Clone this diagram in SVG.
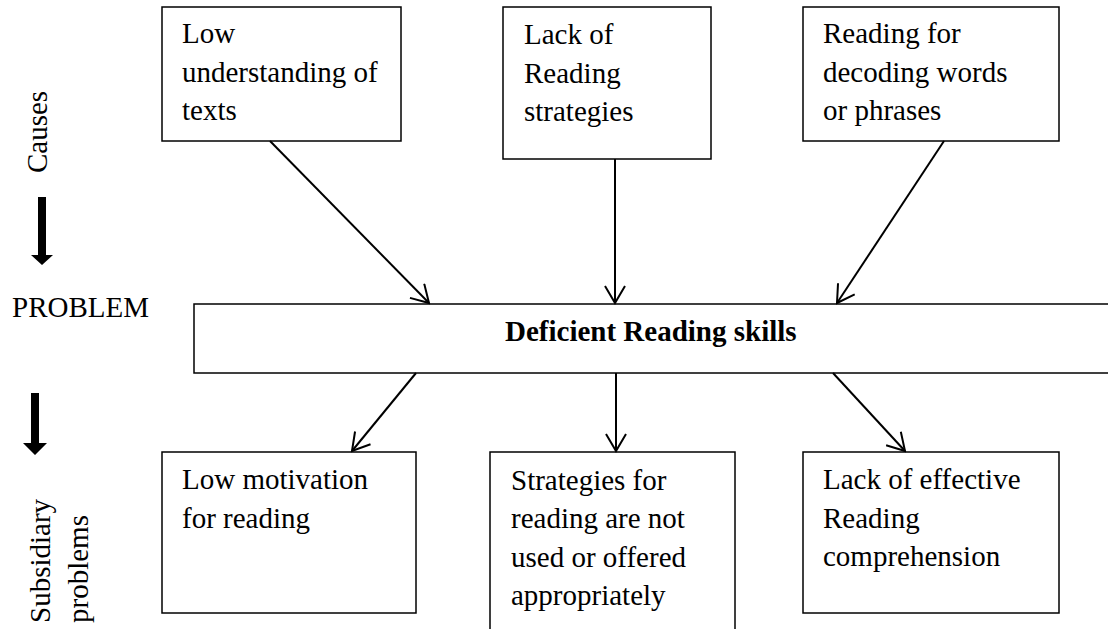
<svg xmlns="http://www.w3.org/2000/svg" width="1108" height="629" viewBox="0 0 1108 629">
<defs>
<style>
text{font-family:"Liberation Serif","Times New Roman",serif;font-size:29px;fill:#000}
.b{font-weight:bold}
.box{fill:#fff;stroke:#000;stroke-width:1.5}
.con line{stroke:#000;stroke-width:2}
.con path{fill:none;stroke:#000;stroke-width:2}
</style>
<marker id="ah" viewBox="0 0 20 22" refX="18" refY="11" markerWidth="20" markerHeight="22" markerUnits="userSpaceOnUse" orient="auto">
<path d="M1,1 L18,11 L1,21" fill="none" stroke="#000" stroke-width="2"/>
</marker>
</defs>
<rect width="1108" height="629" fill="#fff"/>

<g id="side-labels">
<text transform="translate(47,173) rotate(-90)">Causes</text>
<path d="M38,197 H46 V255 H53 L42,265 L31,255 H38 Z" fill="#000"/>
<text x="12" y="317">PROBLEM</text>
<path d="M31,393 H39 V443 H47 L35,455 L23,443 H31 Z" fill="#000"/>
<text transform="translate(50,623) rotate(-90)">Subsidiary</text>
<text transform="translate(88,623) rotate(-90)">problems</text>
</g>

<g id="cause1">
<rect class="box" x="162" y="7" width="239" height="134"/>
<text x="182" y="43">Low</text>
<text x="182" y="82">understanding of</text>
<text x="182" y="120">texts</text>
</g>
<g id="cause2">
<rect class="box" x="503" y="7" width="208" height="152"/>
<text x="524" y="44">Lack of</text>
<text x="524" y="83">Reading</text>
<text x="524" y="121">strategies</text>
</g>
<g id="cause3">
<rect class="box" x="803" y="7" width="256" height="134"/>
<text x="823" y="43">Reading for</text>
<text x="823" y="82">decoding words</text>
<text x="823" y="120">or phrases</text>
</g>

<g id="problem">
<rect class="box" x="194" y="304" width="930" height="69"/>
<text class="b" x="505" y="341">Deficient Reading skills</text>
</g>

<g id="sub1">
<rect class="box" x="162" y="452" width="254" height="161"/>
<text x="182" y="489">Low motivation</text>
<text x="182" y="528">for reading</text>
</g>
<g id="sub2">
<rect class="box" x="490" y="452" width="245" height="200"/>
<text x="511" y="490">Strategies for</text>
<text x="511" y="528">reading are not</text>
<text x="511" y="567">used or offered</text>
<text x="511" y="605">appropriately</text>
</g>
<g id="sub3">
<rect class="box" x="803" y="452" width="256" height="161"/>
<text x="823" y="489">Lack of effective</text>
<text x="823" y="528">Reading</text>
<text x="823" y="566">comprehension</text>
</g>

<g id="connectors" class="con">
<line x1="270" y1="141" x2="429" y2="303" marker-end="url(#ah)"/>
<line x1="615" y1="159" x2="615" y2="303" marker-end="url(#ah)"/>
<line x1="944" y1="141" x2="837" y2="303" marker-end="url(#ah)"/>
<line x1="416" y1="373" x2="352" y2="451" marker-end="url(#ah)"/>
<line x1="616" y1="373" x2="616" y2="451" marker-end="url(#ah)"/>
<line x1="833" y1="373" x2="905" y2="451" marker-end="url(#ah)"/>
</g>
</svg>
